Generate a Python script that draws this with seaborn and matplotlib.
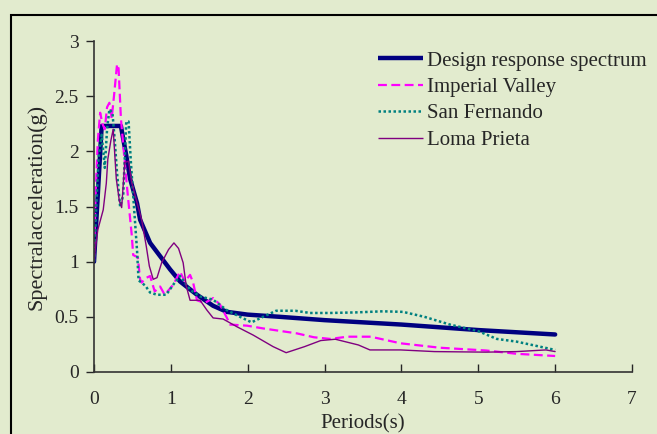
import numpy as np
import pandas as pd
import matplotlib.pyplot as plt
import seaborn as sns
from matplotlib.patches import Rectangle

# периоды и спектральные ускорения
design_t = [0, 0.1, 0.35, 0.42, 0.47, 0.56, 0.6, 0.73, 0.86, 0.99, 1.12, 1.34, 1.55, 1.73,
            2.0, 2.42, 3.0, 3.5, 4.0, 4.5, 5.0, 5.5, 6.0]
design_sa = [1.0, 2.23, 2.23, 1.96, 1.75, 1.53, 1.38, 1.17, 1.05, 0.93, 0.82, 0.70, 0.60, 0.545,
             0.52, 0.50, 0.47, 0.45, 0.43, 0.405, 0.38, 0.36, 0.34]

iv_t = [0, 0.02, 0.05, 0.08, 0.11, 0.14, 0.17, 0.2, 0.23, 0.26, 0.3, 0.32, 0.35, 0.4, 0.44,
        0.49, 0.51, 0.57, 0.6, 0.62, 0.67, 0.73, 0.79, 0.86, 0.92, 1.03, 1.12, 1.18, 1.25,
        1.29, 1.34, 1.44, 1.55, 1.64, 1.73, 1.77, 1.99, 2.2, 2.64, 2.86, 3.07, 3.3, 3.6,
        3.99, 4.5, 5.1, 5.5, 6.0]
iv_sa = [1.0, 1.6, 2.1, 2.35, 2.25, 2.2, 2.40, 2.44, 2.3, 2.5, 2.79, 2.75, 2.3, 1.9, 1.6,
         1.25, 1.06, 1.04, 0.84, 0.81, 0.85, 0.87, 0.73, 0.775, 0.70, 0.79, 0.91, 0.82, 0.88,
         0.81, 0.65, 0.625, 0.67, 0.61, 0.49, 0.43, 0.42, 0.395, 0.35, 0.315, 0.30, 0.32, 0.32,
         0.26, 0.22, 0.195, 0.165, 0.145]

sf_t = [0, 0.03, 0.06, 0.1, 0.14, 0.17, 0.2, 0.24, 0.27, 0.3, 0.34, 0.38, 0.42, 0.45, 0.48,
        0.52, 0.56, 0.58, 0.62, 0.67, 0.73, 0.82, 0.94, 1.04, 1.12, 1.25, 1.38, 1.55, 1.73,
        1.9, 2.05, 2.2, 2.37, 2.62, 2.81, 3.07, 3.4, 3.76, 4.02, 4.3, 4.63, 5.0, 5.24, 5.5,
        5.8, 6.0]
sf_sa = [1.0, 1.5, 1.95, 2.15, 1.85, 2.2, 2.38, 2.35, 2.1, 1.8, 1.5, 1.6, 2.27, 2.27, 1.9,
         1.5, 1.1, 0.83, 0.81, 0.78, 0.72, 0.70, 0.70, 0.80, 0.87, 0.745, 0.685, 0.655, 0.56,
         0.5, 0.45, 0.5, 0.555, 0.555, 0.535, 0.535, 0.54, 0.55, 0.545, 0.5, 0.43, 0.37, 0.30,
         0.275, 0.23, 0.2]

lp_t = [0, 0.05, 0.12, 0.16, 0.18, 0.22, 0.25, 0.29, 0.33, 0.36, 0.40, 0.45, 0.49, 0.55,
        0.62, 0.68, 0.72, 0.77, 0.82, 0.88, 0.97, 1.04, 1.10, 1.16, 1.2, 1.25, 1.38, 1.47,
        1.55, 1.68, 1.86, 2.07, 2.33, 2.5, 2.74, 2.95, 3.14, 3.44, 3.59, 3.99, 4.43, 5.1,
        5.5, 5.88, 6.0]
lp_sa = [1.02, 1.29, 1.47, 1.71, 1.93, 2.1, 2.2, 1.75, 1.55, 1.49, 1.9, 1.91, 1.72, 1.56,
         1.38, 1.14, 0.96, 0.84, 0.855, 0.99, 1.11, 1.17, 1.12, 0.99, 0.78, 0.65, 0.65, 0.56,
         0.49, 0.48, 0.41, 0.335, 0.23, 0.175, 0.23, 0.285, 0.297, 0.245, 0.2, 0.2, 0.185,
         0.18, 0.185, 0.2, 0.185]

bg = '#E2EBCE'
sns.set_style('ticks')
plt.rcParams['font.family'] = ['Liberation Serif', 'DejaVu Serif']

fig = plt.figure(figsize=(6.57, 4.34), dpi=100, facecolor=bg)
ax = fig.add_axes([94 / 657, 62 / 434, 538 / 657, 331 / 434])
ax.set_facecolor(bg)

sns.lineplot(x=design_t, y=design_sa, ax=ax, color='#000080', lw=3.2,
             sort=False, estimator=None, label='Design response spectrum')
sns.lineplot(x=iv_t, y=iv_sa, ax=ax, color='#FF00FF', lw=1.6,
             sort=False, estimator=None, label='Imperial Valley')
sns.lineplot(x=sf_t, y=sf_sa, ax=ax, color='#008080', lw=1.8,
             sort=False, estimator=None, label='San Fernando')
sns.lineplot(x=lp_t, y=lp_sa, ax=ax, color='#800080', lw=1.0,
             sort=False, estimator=None, label='Loma Prieta')
ax.lines[1].set_dashes([4, 2])
ax.lines[2].set_dashes([1, 1])

ax.set_xlim(0, 7)
ax.set_ylim(0, 3)
ax.set_xticks(range(0, 8))
ax.set_yticks([0, 0.5, 1, 1.5, 2, 2.5, 3])
ax.set_yticklabels(['0', '0.5', '1', '1.5', '2', '2.5', '3'])
ax.tick_params(axis='y', direction='out', length=6, width=1, labelsize=14, pad=5)
ax.tick_params(axis='x', direction='in', length=6, width=1, labelsize=14, pad=14)
for s in ['top', 'right']:
    ax.spines[s].set_visible(False)
for s in ['left', 'bottom']:
    ax.spines[s].set_color('#333333')
    ax.spines[s].set_linewidth(1.2)

ax.set_xlabel('Periods(s)', fontsize=15, labelpad=4)
ax.set_ylabel('Spectralacceleration(g)', fontsize=16, labelpad=6)

leg = ax.legend(loc='upper left', bbox_to_anchor=(0.513, 0.995), frameon=False, fontsize=15,
                handlelength=2.15, handletextpad=0.2, labelspacing=0.33, borderaxespad=0)
for h in leg.get_lines():
    h.set_solid_capstyle('butt')

# рамка вокруг области графика
fig.patches.append(Rectangle((11 / 657, -0.05), 1.1, 1 - 15 / 434 + 0.05,
                             transform=fig.transFigure, fill=False, ec='black', lw=1.5))

fig.savefig('out.png', dpi=100, facecolor=bg)
